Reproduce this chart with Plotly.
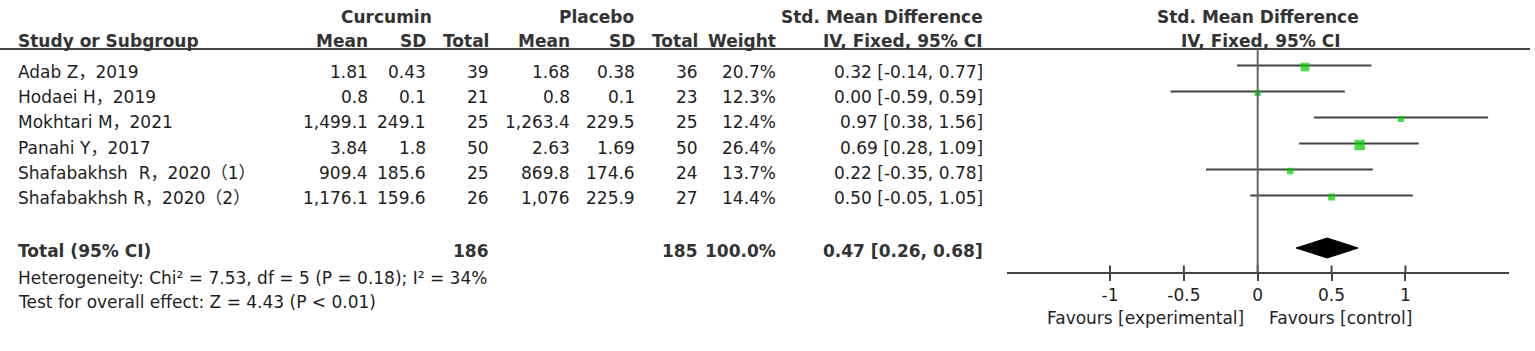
import plotly.graph_objects as go

# ---------------- data ----------------
studies = ["Adab Z，2019", "Hodaei H，2019", "Mokhtari M，2021", "Panahi Y，2017",
           "Shafabakhsh\u00a0 R，2020（1）", "Shafabakhsh R，2020（2）"]
cur_mean = [1.81, 0.8, 1499.1, 3.84, 909.4, 1176.1]
cur_sd = [0.43, 0.1, 249.1, 1.8, 185.6, 159.6]
cur_n = [39, 21, 25, 50, 25, 26]
pla_mean = [1.68, 0.8, 1263.4, 2.63, 869.8, 1076]
pla_sd = [0.38, 0.1, 229.5, 1.69, 174.6, 225.9]
pla_n = [36, 23, 25, 50, 24, 27]
weight = [20.7, 12.3, 12.4, 26.4, 13.7, 14.4]
smd = [0.32, 0.00, 0.97, 0.69, 0.22, 0.50]
ci_lo = [-0.14, -0.59, 0.38, 0.28, -0.35, -0.05]
ci_hi = [0.77, 0.59, 1.56, 1.09, 0.78, 1.05]

total_cur_n = 186
total_pla_n = 185
total_weight = 100.0
pooled = 0.47
pooled_lo = 0.26
pooled_hi = 0.68

heterogeneity = "Heterogeneity: Chi² = 7.53, df = 5 (P = 0.18); I² = 34%"
overall = "Test for overall effect: Z = 4.43 (P < 0.01)"

tick_vals = [-1, -0.5, 0, 0.5, 1]
tick_text = ["-1", "-0.5", "0", "0.5", "1"]
axis_range = [-1.7, 1.7]

# ---------------- layout constants ----------------
W, H = 1535, 351
FONT = "DejaVu Sans, Noto Sans CJK SC, sans-serif"
FS = 17
TXT = "#1e1e1e"
HDR = "#333333"
LINE = "#444444"


def px(x):
    return x / W


text_y0, text_dy = 72, 25.2
forest_y0, forest_dy = 65.5, 26
row_y = [text_y0 + i * text_dy for i in range(len(studies))]
frow_y = [forest_y0 + i * forest_dy for i in range(len(studies))]
total_y = 251
diamond_y = 248
het_y = 278
test_y = 302
hdr1_y, hdr2_y = 17, 41
line_y = 49
axis_y = 272.5

fig = go.Figure()
ann = []


def add_text(x, y, s, anchor="right", bold=False, color=TXT):
    ann.append(dict(x=px(x), y=y, xref="paper", yref="y", text=(f"<b>{s}</b>" if bold else s),
                    showarrow=False, xanchor=anchor, yanchor="middle",
                    font=dict(family=FONT, size=FS, color=color)))


def fmt(v):
    return f"{v:,}"


# headers
add_text(387, hdr1_y, "Curcumin", "center", True, HDR)
add_text(596, hdr1_y, "Placebo", "center", True, HDR)
add_text(882, hdr1_y, "Std. Mean Difference", "center", True, HDR)
add_text(1257.5, hdr1_y, "Std. Mean Difference", "center", True, HDR)
add_text(16, hdr2_y, "Study or Subgroup", "left", True, HDR)
cols = [370, 428, 491, 572, 637, 700, 778, 985]
hdr2 = ["Mean", "SD", "Total", "Mean", "SD", "Total", "Weight", "IV, Fixed, 95% CI"]
for c, h in zip(cols, hdr2):
    add_text(c, hdr2_y, h, "right", True, HDR)
add_text(1261, hdr2_y, "IV, Fixed, 95% CI", "center", True, HDR)

# rows
for i, s in enumerate(studies):
    y = row_y[i]
    add_text(16, y, s, "left")
    vals = [fmt(cur_mean[i]), fmt(cur_sd[i]), str(cur_n[i]), fmt(pla_mean[i]), fmt(pla_sd[i]),
            str(pla_n[i]), f"{weight[i]:.1f}%", f"{smd[i]:.2f} [{ci_lo[i]:.2f}, {ci_hi[i]:.2f}]"]
    for c, v in zip(cols, vals):
        add_text(c, y, v, "right")

# totals
add_text(16, total_y, "Total (95% CI)", "left", True, HDR)
add_text(cols[2], total_y, str(total_cur_n), "right", True, HDR)
add_text(cols[5], total_y, str(total_pla_n), "right", True, HDR)
add_text(cols[6], total_y, f"{total_weight:.1f}%", "right", True, HDR)
add_text(cols[7], total_y, f"{pooled:.2f} [{pooled_lo:.2f}, {pooled_hi:.2f}]", "right", True, HDR)
add_text(16, het_y, heterogeneity, "left")
add_text(16, test_y, overall, "left")

# favours labels
add_text(1246, 318, "Favours [experimental]", "right")
add_text(1267, 318, "Favours [control]", "left")

# CI lines
xs, ys = [], []
for i in range(len(studies)):
    xs += [ci_lo[i], ci_hi[i], None]
    ys += [frow_y[i], frow_y[i], None]
fig.add_trace(go.Scatter(x=xs, y=ys, mode="lines", line=dict(color=LINE, width=2),
                         hoverinfo="skip", showlegend=False))

# squares
fig.add_trace(go.Scatter(x=smd, y=[y + 1.5 for y in frow_y], mode="markers",
                         marker=dict(symbol="square", color="#00cc00",
                                     size=[0.3 * w + 2.5 for w in weight], line=dict(width=0)),
                         hoverinfo="skip", showlegend=False))

# diamond
dh = 10
fig.add_trace(go.Scatter(x=[pooled_lo, pooled, pooled_hi, pooled, pooled_lo],
                         y=[diamond_y, diamond_y - dh, diamond_y, diamond_y + dh, diamond_y],
                         mode="lines", fill="toself", fillcolor="#000000",
                         line=dict(color="#000000", width=1), hoverinfo="skip", showlegend=False))

# upper halves of tick marks
txs, tys = [], []
for v in tick_vals:
    txs += [v, v, None]
    tys += [axis_y - 7, axis_y, None]
fig.add_trace(go.Scatter(x=txs, y=tys, mode="lines", line=dict(color=LINE, width=2),
                         hoverinfo="skip", showlegend=False))

shapes = [
    dict(type="line", xref="paper", yref="y", x0=0, x1=px(1530), y0=line_y, y1=line_y,
         line=dict(color=LINE, width=2)),
    dict(type="line", xref="x", yref="y", x0=0, x1=0, y0=line_y, y1=axis_y,
         line=dict(color="#666666", width=2)),
]

fig.update_layout(
    width=W, height=H, margin=dict(l=0, r=0, t=0, b=0),
    paper_bgcolor="white", plot_bgcolor="white", showlegend=False,
    annotations=ann, shapes=shapes,
    xaxis=dict(domain=[px(1257.7 + axis_range[0] * 147.7), px(1257.7 + axis_range[1] * 147.7)],
               range=axis_range, anchor="free", position=1 - axis_y / H,
               showline=True, linecolor=LINE, linewidth=2,
               ticks="outside", ticklen=7, tickwidth=2, tickcolor=LINE,
               tickvals=tick_vals, ticktext=tick_text,
               tickfont=dict(family=FONT, size=FS, color=TXT),
               showgrid=False, zeroline=False, fixedrange=True),
    yaxis=dict(domain=[0, 1], range=[H, 0], visible=False, fixedrange=True),
)

fig.write_html("out.html")
